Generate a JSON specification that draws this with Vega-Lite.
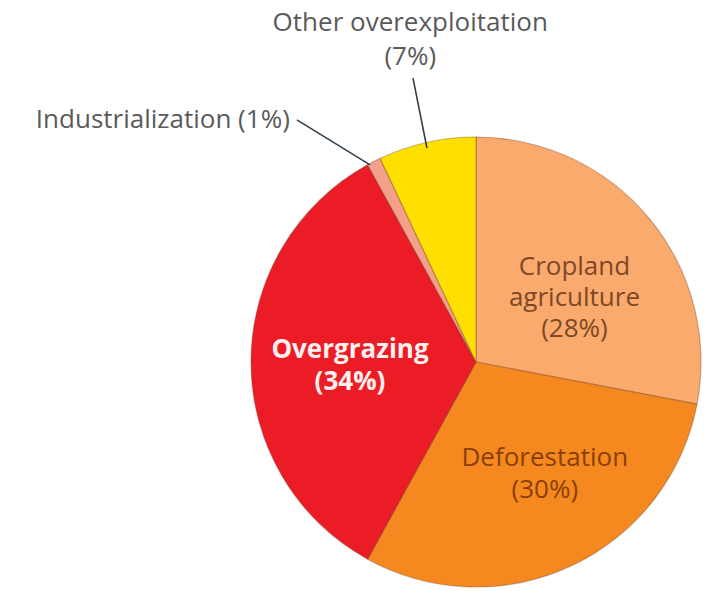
{
  "$schema": "https://vega.github.io/schema/vega-lite/v6.json",
  "width": 450,
  "height": 450,
  "autosize": {"type": "none"},
  "padding": {"left": 251, "top": 137, "right": 14, "bottom": 4},
  "background": "white",
  "config": {
    "view": {"stroke": null},
    "text": {"font": "Open Sans", "fontSize": 26, "lineBreak": "\n", "lineHeight": 32, "baseline": "middle", "align": "center"}
  },
  "data": {
    "values": [
      {"cause": "Cropland agriculture", "pct": 28},
      {"cause": "Deforestation", "pct": 30},
      {"cause": "Overgrazing", "pct": 34},
      {"cause": "Industrialization", "pct": 1},
      {"cause": "Other overexploitation", "pct": 7}
    ]
  },
  "transform": [
    {"window": [{"op": "row_number", "as": "idx"}]},
    {
      "calculate": "(datum.cause === 'Cropland agriculture' ? 'Cropland\\nagriculture' : datum.cause) + (datum.cause === 'Industrialization' ? ' ' : '\\n') + '(' + datum.pct + '%)'",
      "as": "caption"
    }
  ],
  "layer": [
    {
      "mark": {"type": "arc", "outerRadius": 225, "stroke": "#6b3a1e", "strokeOpacity": 0.35, "strokeWidth": 1.2},
      "encoding": {
        "theta": {"field": "pct", "type": "quantitative", "stack": true},
        "order": {"field": "idx", "type": "quantitative"},
        "color": {
          "field": "cause",
          "type": "nominal",
          "legend": null,
          "scale": {
            "domain": ["Cropland agriculture", "Deforestation", "Overgrazing", "Industrialization", "Other overexploitation"],
            "range": ["#f9aa6c", "#f5891f", "#ec1c27", "#f4a08a", "#fee000"]
          }
        }
      }
    },
    {
      "mark": {"type": "text", "radius": 120, "dx": 6, "dy": -19, "lineHeight": 31, "fill": "#7e4826"},
      "encoding": {
        "theta": {"field": "pct", "type": "quantitative", "stack": true},
        "order": {"field": "idx", "type": "quantitative"},
        "text": {"condition": {"test": "datum.cause === 'Cropland agriculture'", "field": "caption"}, "value": ""}
      }
    },
    {
      "mark": {"type": "text", "radius": 131, "dx": 13, "dy": -23, "fill": "#8a3f08"},
      "encoding": {
        "theta": {"field": "pct", "type": "quantitative", "stack": true},
        "order": {"field": "idx", "type": "quantitative"},
        "text": {"condition": {"test": "datum.cause === 'Deforestation'", "field": "caption"}, "value": ""}
      }
    },
    {
      "mark": {"type": "text", "radius": 126, "dy": -12, "fill": "#fff0f0", "fontWeight": "bold", "letterSpacing": 1},
      "encoding": {
        "theta": {"field": "pct", "type": "quantitative", "stack": true},
        "order": {"field": "idx", "type": "quantitative"},
        "text": {"condition": {"test": "datum.cause === 'Overgrazing'", "field": "caption"}, "value": ""}
      }
    },
    {
      "mark": {"type": "text", "radius": 329, "dx": 6, "dy": -18, "lineHeight": 34, "fill": "#5a5a5a"},
      "encoding": {
        "theta": {"field": "pct", "type": "quantitative", "stack": true},
        "order": {"field": "idx", "type": "quantitative"},
        "text": {"condition": {"test": "datum.cause === 'Other overexploitation'", "field": "caption"}, "value": ""}
      }
    },
    {
      "mark": {"type": "text", "radius": 300, "dx": -50, "dy": 25, "align": "right", "letterSpacing": 0.4, "fill": "#5a5a5a"},
      "encoding": {
        "theta": {"field": "pct", "type": "quantitative", "stack": true},
        "order": {"field": "idx", "type": "quantitative"},
        "text": {"condition": {"test": "datum.cause === 'Industrialization'", "field": "caption"}, "value": ""}
      }
    },
    {
      "data": {"values": [{}]},
      "mark": {"type": "rule", "stroke": "#34404c", "strokeWidth": 1.6},
      "encoding": {
        "x": {"datum": -0.218, "type": "quantitative", "scale": {"domain": [-1, 1], "nice": false}, "axis": null},
        "y": {"datum": 0.951, "type": "quantitative", "scale": {"domain": [-1, 1], "nice": false}, "axis": null},
        "x2": {"datum": -0.28},
        "y2": {"datum": 1.262}
      }
    },
    {
      "data": {"values": [{}]},
      "mark": {"type": "rule", "stroke": "#34404c", "strokeWidth": 1.6},
      "encoding": {
        "x": {"datum": -0.471, "type": "quantitative", "scale": {"domain": [-1, 1], "nice": false}, "axis": null},
        "y": {"datum": 0.876, "type": "quantitative", "scale": {"domain": [-1, 1], "nice": false}, "axis": null},
        "x2": {"datum": -0.796},
        "y2": {"datum": 1.076}
      }
    }
  ]
}
